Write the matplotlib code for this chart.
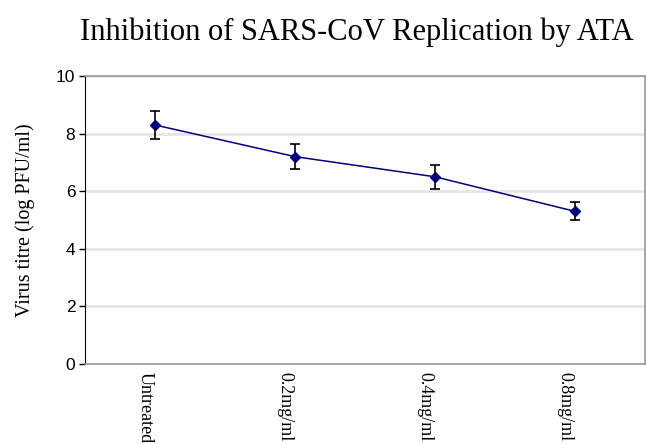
import matplotlib
matplotlib.use("Agg")
import matplotlib.pyplot as plt
from matplotlib.transforms import ScaledTranslation

categories = ["Untreated", "0.2mg/ml", "0.4mg/ml", "0.8mg/ml"]
titre = [8.3, 7.2, 6.5, 5.3]
err = [0.5, 0.43, 0.41, 0.31]

fig = plt.figure(figsize=(6.47, 4.44), dpi=100)
ax = fig.add_axes([85 / 647, 80 / 444, 560 / 647, 288 / 444])

x = list(range(len(categories)))
ax.errorbar(x, titre, yerr=err, color="#000080", ecolor="black", elinewidth=1.2,
            capsize=3.3, capthick=1.2, marker="D", markersize=5.5, linewidth=1.1, zorder=3)

ax.set_xlim(-0.5, 3.5)
ax.set_ylim(0, 10)
ax.set_yticks([0, 2, 4, 6, 8, 10])
ax.yaxis.grid(True, color="#e6e6e6", linewidth=2)
ax.set_axisbelow(True)

ax.set_xticks(x)
ax.set_xticklabels(categories, rotation=-90, family="Liberation Serif", fontsize=13,
                   va="top", ha="center")
ax.tick_params(axis="x", length=0, pad=6)
ax.tick_params(axis="y", length=4, width=1, direction="out", labelsize=12.5, pad=3)
for lab in ax.get_yticklabels():
    lab.set_family("Liberation Sans")
shift = ScaledTranslation(-10 / 100, 0, fig.dpi_scale_trans)
for lab in ax.get_xticklabels():
    lab.set_transform(lab.get_transform() + shift)

ax.spines["left"].set_color("black")
for s in ["top", "right", "bottom"]:
    ax.spines[s].set_color("#999999")
    ax.spines[s].set_linewidth(1.2)

ax.set_ylabel("Virus titre (log PFU/ml)", family="Liberation Serif", fontsize=14.5, labelpad=15)
fig.text(357 / 647, 1 - 32 / 444, "Inhibition of SARS-CoV Replication by ATA",
         family="Liberation Serif", fontsize=22, ha="center", va="center")

fig.savefig("out.png", dpi=100)
